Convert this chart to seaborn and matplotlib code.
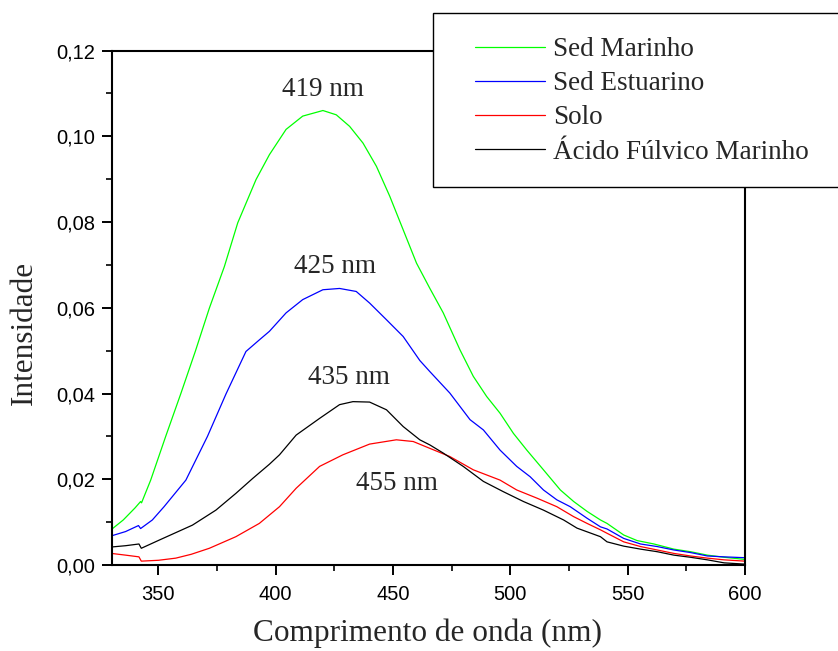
import matplotlib
matplotlib.use("Agg")
import matplotlib.pyplot as plt
from matplotlib.patches import Rectangle
from matplotlib.ticker import MultipleLocator, FuncFormatter
import seaborn as sns
import pandas as pd

# Emission spectra (wavelength in nm, intensity in a.u.)
marinho_nm = [330, 335, 340, 342.4, 342.8, 346.7, 353.1, 359.5, 365.7, 371.7,
              378.1, 383.8, 391.6, 397.3, 404.4, 411.5, 420.1, 425.8, 431.5, 437.2,
              442.9, 448.6, 454.3, 460, 465.7, 471.4, 478.5, 484.2, 489.9, 495.6,
              501.3, 507, 514.1, 521.3, 527, 532.7, 538.4, 541.2, 548.3, 554,
              561.2, 569.7, 576.8, 584, 591.1, 600]
marinho_int = [0.0083, 0.0105, 0.0133, 0.0148, 0.0145, 0.0198, 0.0300, 0.0399, 0.0498, 0.0599,
               0.0696, 0.0798, 0.0899, 0.0957, 0.1016, 0.1047, 0.1060, 0.1050, 0.1023, 0.0984,
               0.0930, 0.0860, 0.0782, 0.0704, 0.0645, 0.0588, 0.0502, 0.0440, 0.0393, 0.0354,
               0.0307, 0.0268, 0.0222, 0.0175, 0.0148, 0.0125, 0.0105, 0.0097, 0.0070, 0.0057,
               0.0049, 0.0037, 0.0031, 0.0023, 0.0018, 0.0013]

estuarino_nm = [330, 336, 341.5, 342.4, 347.4, 352.4, 361.7, 370.9, 378.8, 387.3,
                393, 397.3, 404.4, 411.5, 420.1, 427.2, 434.3, 440, 447.2, 454.3,
                461.4, 465.7, 474.2, 478.5, 482.8, 488.5, 495.6, 502.7, 508.4, 514.1,
                519.8, 525.5, 532.7, 538.4, 541.2, 548.3, 555.5, 562.6, 569.7, 576.8,
                584, 591.1, 600]
estuarino_int = [0.0068, 0.0078, 0.0092, 0.0085, 0.0105, 0.0136, 0.0198, 0.0300, 0.0399, 0.0498,
                 0.0525, 0.0545, 0.0588, 0.0619, 0.0642, 0.0645, 0.0638, 0.0611, 0.0572, 0.0533,
                 0.0477, 0.0451, 0.0401, 0.0370, 0.0339, 0.0315, 0.0268, 0.0230, 0.0206, 0.0175,
                 0.0152, 0.0136, 0.0109, 0.0089, 0.0084, 0.0062, 0.0049, 0.0043, 0.0035, 0.0029,
                 0.0021, 0.0019, 0.0017]

solo_nm = [330, 336, 341.7, 342.7, 350, 357.4, 364, 371.7, 383, 393,
           401.6, 408.7, 418.7, 428.6, 440, 451.4, 458.6, 465.7, 474.2, 484.2,
           495.6, 502.7, 511.3, 519.8, 526.9, 532.7, 538.4, 541.2, 548.3, 555.5,
           562.6, 569.7, 576.8, 584, 591.1, 600]
solo_int = [0.0027, 0.0023, 0.0019, 0.0009, 0.0011, 0.0016, 0.0025, 0.0039, 0.0066, 0.0097,
            0.0136, 0.0179, 0.0230, 0.0257, 0.0282, 0.0292, 0.0288, 0.0272, 0.0253, 0.0222,
            0.0198, 0.0175, 0.0156, 0.0136, 0.0113, 0.0097, 0.0082, 0.0074, 0.0054, 0.0043,
            0.0035, 0.0027, 0.0021, 0.0016, 0.0012, 0.0009]

fulvico_nm = [330, 336, 341.7, 342.7, 350.3, 364.5, 374.5, 383, 390.2, 397.3,
              401.6, 408.7, 418.7, 427.2, 432.9, 440, 447.2, 454.3, 461.4, 465.7,
              471.4, 479.9, 488.5, 497, 505.6, 514.1, 522.7, 528.4, 538.4, 541.2,
              548.3, 555.5, 562.6, 569.7, 576.8, 584, 591.1, 600]
fulvico_int = [0.0042, 0.0045, 0.0049, 0.0039, 0.0058, 0.0093, 0.0128, 0.0167, 0.0202, 0.0235,
               0.0257, 0.0303, 0.0342, 0.0374, 0.0381, 0.0380, 0.0362, 0.0323, 0.0292, 0.0280,
               0.0261, 0.0230, 0.0195, 0.0171, 0.0148, 0.0128, 0.0105, 0.0086, 0.0066, 0.0054,
               0.0044, 0.0037, 0.0031, 0.0023, 0.0018, 0.0012, 0.0005, 0.0002]

series_names = ["Sed Marinho", "Sed Estuarino", "Solo", "Ácido Fúlvico Marinho"]
series_colors = ["#00ff00", "#0000ff", "#ff0000", "#000000"]

# Peak labels: text, wavelength and intensity where each is written
peak_labels = ["419 nm", "425 nm", "435 nm", "455 nm"]
peak_label_x = [420, 425.1, 431.1, 451.6]
peak_label_y = [0.1109, 0.0696, 0.0437, 0.0191]

x_ticks = [350, 400, 450, 500, 550, 600]
y_ticks = [0.00, 0.02, 0.04, 0.06, 0.08, 0.10, 0.12]

frames = []
for name, nm, val in zip(series_names,
                         [marinho_nm, estuarino_nm, solo_nm, fulvico_nm],
                         [marinho_int, estuarino_int, solo_int, fulvico_int]):
    frames.append(pd.DataFrame({"nm": nm, "intensidade": val, "amostra": name}))
df = pd.concat(frames, ignore_index=True)

sns.set_theme(style="ticks")
plt.rcParams["font.family"] = ["Liberation Sans", "DejaVu Sans"]

W, H = 838, 651
fig = plt.figure(figsize=(W / 100, H / 100), dpi=100)
ax = fig.add_axes([111.5 / W, (H - 565) / H, (745 - 111.5) / W, (565 - 50.5) / H])

sns.lineplot(data=df, x="nm", y="intensidade", hue="amostra",
             hue_order=series_names, palette=series_colors,
             estimator=None, sort=True, linewidth=0.9, legend=False, ax=ax)

ax.set_xlim(330, 600)
ax.set_ylim(0, 0.12)
ax.set_xticks(x_ticks)
ax.set_yticks(y_ticks)
ax.xaxis.set_minor_locator(MultipleLocator(25))
ax.yaxis.set_minor_locator(MultipleLocator(0.01))
ax.yaxis.set_major_formatter(FuncFormatter(lambda v, p: f"{v:.2f}".replace(".", ",")))
ax.tick_params(which="major", direction="out", length=7.5, width=1.4,
               labelsize=14.5, pad=4.5, colors="black")
ax.tick_params(which="minor", direction="out", length=4, width=1.4)
ax.tick_params(axis="x", which="major", pad=7)
for side in ["left", "right", "top", "bottom"]:
    ax.spines[side].set_visible(True)
    ax.spines[side].set_linewidth(1.5)
    ax.spines[side].set_color("black")

serif = ["Liberation Serif", "DejaVu Serif"]
ax.set_xlabel("Comprimento de onda (nm)", family=serif, fontsize=22.5, va="center")
ax.set_ylabel("Intensidade", family=serif, fontsize=22.5, va="center")
ax.xaxis.set_label_coords(0.4996, -0.132)
ax.yaxis.set_label_coords(-0.138, 0.452)

for txt, x, y in zip(peak_labels, peak_label_x, peak_label_y):
    ax.text(x, y, txt, family=serif, fontsize=19.5, ha="center", va="center")

# Legend box, running past the right edge of the figure
ax.add_patch(Rectangle((433 / W, 1 - 187 / H), 420 / W, 174 / H,
                       transform=fig.transFigure, facecolor="white",
                       edgecolor="black", linewidth=1.0, clip_on=False,
                       zorder=5))
handles = ax.get_lines()[:4]
leg = ax.legend(handles, series_names, loc="upper left",
                bbox_to_anchor=(475 / W, 1 - 37 / H), bbox_transform=fig.transFigure,
                frameon=False, prop={"family": serif, "size": 19.5},
                handlelength=2.6, handletextpad=0.28, labelspacing=0.34,
                borderpad=0, borderaxespad=0)
leg.set_zorder(6)

fig.savefig("out.png", dpi=100)
